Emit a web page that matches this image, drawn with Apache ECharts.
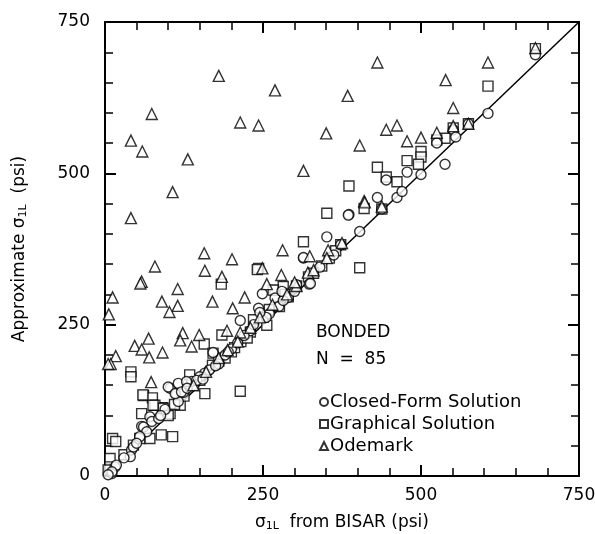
<!DOCTYPE html>
<html>
<head>
<meta charset="utf-8">
<script src="https://cdn.jsdelivr.net/npm/echarts@6/dist/echarts.min.js"></script>
<style>
  html, body { margin: 0; background: #fff; }
  #chart { width: 595px; height: 534px; }
</style>
</head>
<body>
<div id="chart"></div>
<script>
// axis ticks (psi)
const axisMin = 0;
const axisMax = 750;
const axisStep = 250;

const legendNames = ['Closed-Form Solution', 'Graphical Solution', 'Odemark'];

// [sigma1L from BISAR, approximate sigma1L]
const closedForm = [
  [681,696],[606,599],[575,582],[551,572],[525,550],[538,515],[478,502],[445,489],[431,460],[462,460],
  [386,432],[403,404],[438,441],[385,431],[351,395],[314,360],[323,317],[269,294],[314,361],[325,318],
  [249,301],[214,257],[243,277],[303,316],[171,204],[103,145],[113,136],[124,138],[137,156],[116,123],
  [71,98],[58,82],[74,90],[42,43],[45,48],[16,15],[11,4],[158,170],[150,164],[100,147],[116,153],
  [129,156],[111,136],[121,139],[61,81],[66,73],[55,65],[50,54],[40,32],[18,18],[11,7],[373,382],
  [275,280],[290,295],[260,268],[230,240],[200,210],[190,200],[180,185],[210,220],[235,250],[255,262],
  [282,290],[300,305],[340,345],[362,365],[85,95],[95,110],[130,145],[145,158],[165,175],[175,182],
  [30,30],[5,2],[470,470],[500,498],[555,560],[280,305],[245,270],[220,232],[195,205],[155,160],[88,100]
];

const graphical = [
  [681,706],[606,644],[551,575],[575,582],[538,558],[525,555],[500,536],[500,527],[478,521],[496,515],
  [431,510],[445,494],[462,486],[386,479],[410,442],[438,441],[351,434],[314,387],[403,344],[243,343],
  [373,382],[343,347],[322,329],[303,314],[269,307],[282,313],[276,280],[241,341],[184,317],[266,307],
  [185,233],[157,218],[171,203],[256,249],[41,172],[41,164],[158,136],[214,140],[61,133],[75,129],
  [119,117],[91,113],[58,103],[79,117],[103,103],[89,68],[107,65],[71,62],[12,62],[17,57],[8,29],
  [170,183],[134,167],[45,51],[55,62],[8,15],[92,112],[76,117],[60,134],[200,205],[215,222],[230,238],
  [250,262],[290,296],[355,360],[225,228],[190,195],[140,150],[125,132],[100,100],[5,10],[30,35],
  [260,275],[235,258],[365,372],[330,335],[285,300],[205,212],[180,190],[150,158],[110,118]
];

const odemark = [
  [180,661],[269,637],[384,628],[431,683],[606,683],[539,654],[74,598],[41,554],[59,536],[214,584],
  [243,579],[131,523],[350,566],[314,504],[107,469],[41,426],[551,608],[445,572],[462,579],[403,546],
  [478,553],[500,559],[525,567],[410,454],[681,707],[157,368],[201,358],[79,346],[158,339],[58,321],
  [185,329],[115,309],[12,295],[90,288],[115,281],[102,271],[170,288],[221,295],[202,277],[6,267],
  [281,373],[324,363],[353,373],[249,343],[279,332],[256,317],[123,236],[119,224],[149,233],[193,240],
  [69,227],[47,215],[58,209],[70,196],[91,204],[137,214],[17,198],[9,185],[73,155],[321,336],[214,237],
  [194,208],[411,452],[303,314],[351,360],[575,582],[551,578],[245,262],[265,283],[230,245],[210,222],
  [180,195],[300,320],[288,300],[5,185],[56,318],[375,385],[438,445],[330,340],[160,172],[140,150]
];

const diagonal = [[0, 0], [750, 750]];

const font = 'DejaVu Sans';
const subRich = {
  sub: { fontSize: 11, verticalAlign: 'bottom', padding: [8, 0, 0, 0], fontFamily: font, color: '#000' }
};

function makeAxis(position, showLabel) {
  return {
    type: 'value',
    min: axisMin,
    max: axisMax,
    interval: axisStep,
    position: position,
    axisLine: { show: true, onZero: false, lineStyle: { color: '#000', width: 2 } },
    axisTick: { show: true, inside: true, length: 11, lineStyle: { color: '#000', width: 2 } },
    minorTick: { show: true, splitNumber: 5, length: 8, lineStyle: { color: '#000', width: 1.5 } },
    splitLine: { show: false },
    axisLabel: { show: showLabel, color: '#000', fontSize: 17, fontFamily: font, margin: 11 }
  };
}

const xBottom = makeAxis('bottom', true);
xBottom.name = 'σ{sub|1L}  from BISAR (psi)';
xBottom.nameLocation = 'middle';
xBottom.nameGap = 37;
xBottom.nameTextStyle = { color: '#000', fontSize: 17, fontFamily: font, rich: subRich };

const yLeft = makeAxis('left', true);
yLeft.axisLabel.margin = 15;
yLeft.name = 'Approximate σ{sub|1L}  (psi)';
yLeft.nameLocation = 'middle';
yLeft.nameGap = 76;
yLeft.nameTextStyle = { color: '#000', fontSize: 17, fontFamily: font, rich: subRich };

const xTop = makeAxis('top', false);
const yRight = makeAxis('right', false);

const hollow = { color: '#fff', borderColor: '#000', borderWidth: 1.4 };

const chart = echarts.init(document.getElementById('chart'));
chart.setOption({
  animation: false,
  backgroundColor: '#fff',
  grid: { left: 105, right: 16, top: 22, bottom: 58, outerBoundsMode: 'none', containLabel: false },
  xAxis: [xBottom, xTop],
  yAxis: [yLeft, yRight],
  legend: {
    data: legendNames,
    orient: 'vertical',
    left: 314,
    top: 388,
    itemWidth: 8,
    itemHeight: 8,
    itemGap: 4,
    itemStyle: { borderWidth: 2 },
    textStyle: { color: '#000', fontSize: 18, fontFamily: font, padding: [0, 0, 0, -3] }
  },
  graphic: [
    { type: 'text', left: 316, top: 324, style: { text: 'BONDED', fontSize: 17, fontFamily: font, fill: '#000' } },
    { type: 'text', left: 316, top: 351, style: { text: 'N  =  85', fontSize: 17, fontFamily: font, fill: '#000' } }
  ],
  series: [
    {
      name: 'diagonal',
      type: 'line',
      data: diagonal,
      symbol: 'none',
      lineStyle: { color: '#000', width: 1.5 },
      z: 1
    },
    {
      name: legendNames[0],
      type: 'scatter',
      data: closedForm,
      symbol: 'circle',
      symbolSize: 10,
      itemStyle: hollow,
      z: 3
    },
    {
      name: legendNames[1],
      type: 'scatter',
      data: graphical,
      symbol: 'rect',
      symbolSize: 10,
      itemStyle: hollow,
      z: 2
    },
    {
      name: legendNames[2],
      type: 'scatter',
      data: odemark,
      symbol: 'triangle',
      symbolSize: 11,
      itemStyle: hollow,
      z: 4
    }
  ]
});
</script>
</body>
</html>
